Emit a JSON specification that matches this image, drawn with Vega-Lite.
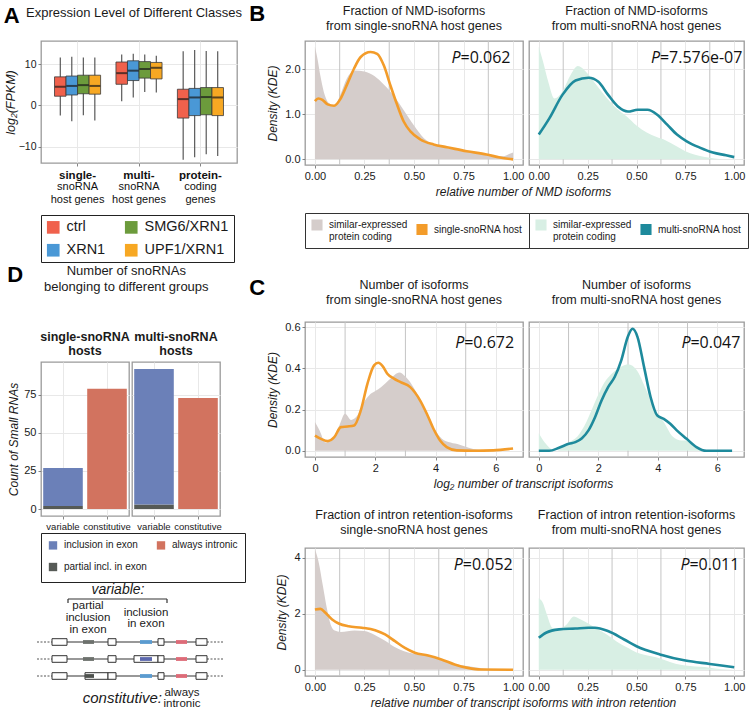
{
"$schema": "https://vega.github.io/schema/vega-lite/v6.json",
"background": "white",
"padding": {"left": 3, "top": 3, "right": 2, "bottom": 2},
"spacing": 3,
"resolve": {"scale": {"color": "independent"}},
"config": {
  "font": "Liberation Sans",
  "view": {"stroke": "#9a9a9a", "strokeWidth": 1.3},
  "axis": {"labelFont": "Liberation Sans", "labelFontSize": 11, "labelColor": "#1a1a1a", "tickColor": "#666", "tickSize": 3, "tickWidth": 0.8, "domain": false, "gridColor": "#e8e8e8", "gridWidth": 1, "titleFont": "Liberation Sans", "titleFontWeight": "normal", "titleFontStyle": "italic", "titleFontSize": 12, "titleColor": "#1a1a1a", "labelPadding": 2, "titlePadding": 5},
  "title": {"font": "Liberation Sans", "fontWeight": "normal", "fontSize": 12.5, "color": "#1a1a1a", "lineHeight": 15},
  "legend": {"titleFontWeight": "normal", "labelFont": "Liberation Sans", "labelColor": "#1a1a1a", "gridAlign": "each"}
},
"datasets": {
  "boxes": [
    {"grp":"single","cond":"ctrl","lo":-2.5,"q1":2.2,"med":4.5,"q3":6.9,"hi":11.6},
    {"grp":"single","cond":"XRN1","lo":-3.9,"q1":2.5,"med":4.7,"q3":7.1,"hi":11.8},
    {"grp":"single","cond":"SMG6/XRN1","lo":-2.4,"q1":2.8,"med":4.9,"q3":7.3,"hi":11.6},
    {"grp":"single","cond":"UPF1/XRN1","lo":-3.7,"q1":2.7,"med":4.7,"q3":7.3,"hi":11.6},
    {"grp":"multi","cond":"ctrl","lo":1.0,"q1":5.1,"med":7.8,"q3":10.5,"hi":12.3},
    {"grp":"multi","cond":"XRN1","lo":1.9,"q1":6.0,"med":8.4,"q3":10.8,"hi":12.5},
    {"grp":"multi","cond":"SMG6/XRN1","lo":3.2,"q1":6.6,"med":8.8,"q3":10.6,"hi":12.3},
    {"grp":"multi","cond":"UPF1/XRN1","lo":3.1,"q1":6.4,"med":9.1,"q3":10.4,"hi":12.0},
    {"grp":"protein","cond":"ctrl","lo":-13.2,"q1":-3.1,"med":1.5,"q3":3.9,"hi":13.1},
    {"grp":"protein","cond":"XRN1","lo":-12.6,"q1":-2.5,"med":1.9,"q3":4.1,"hi":13.4},
    {"grp":"protein","cond":"SMG6/XRN1","lo":-11.9,"q1":-2.3,"med":2.0,"q3":4.3,"hi":13.2},
    {"grp":"protein","cond":"UPF1/XRN1","lo":-12.3,"q1":-2.5,"med":1.9,"q3":4.3,"hi":13.1}
  ],
  "dbars": [
    {"host":"single","cls":"variable","kind":"partial incl. in exon","n":2,"ord":1},
    {"host":"single","cls":"variable","kind":"inclusion in exon","n":25,"ord":2},
    {"host":"single","cls":"constitutive","kind":"always intronic","n":79,"ord":3},
    {"host":"multi","cls":"variable","kind":"partial incl. in exon","n":3,"ord":1},
    {"host":"multi","cls":"variable","kind":"inclusion in exon","n":89,"ord":2},
    {"host":"multi","cls":"constitutive","kind":"always intronic","n":73,"ord":3}
  ],
  "vgrid": [
    {"k":"frac","x":0.125},{"k":"frac","x":0.375},{"k":"frac","x":0.625},{"k":"frac","x":0.875},
    {"k":"iso","x":1},{"k":"iso","x":3},{"k":"iso","x":5}
  ],
  "pv": [
    {"p":"BL","jx":0.735,"py":2.14,"v":"=0.062"},
    {"p":"BR","jx":0.62,"py":2.14,"v":"=7.576e-07"},
    {"p":"CTL","jx":4.95,"py":0.5,"v":"=0.672"},
    {"p":"CTR","jx":5.1,"py":0.5,"v":"=0.047"},
    {"p":"CBL","jx":0.746,"py":3.57,"v":"=0.052"},
    {"p":"CBR","jx":0.771,"py":3.57,"v":"=0.011"}
  ],
  "dens": [
    {"p":"BL","s":"p","x":0,"y":2.5},{"p":"BL","s":"p","x":0.01,"y":2.3},{"p":"BL","s":"p","x":0.03,"y":1.8},{"p":"BL","s":"p","x":0.05,"y":1.42},{"p":"BL","s":"p","x":0.07,"y":1.25},{"p":"BL","s":"p","x":0.1,"y":1.2},{"p":"BL","s":"p","x":0.13,"y":1.45},{"p":"BL","s":"p","x":0.16,"y":1.78},{"p":"BL","s":"p","x":0.2,"y":1.97},{"p":"BL","s":"p","x":0.25,"y":1.95},{"p":"BL","s":"p","x":0.3,"y":1.85},{"p":"BL","s":"p","x":0.35,"y":1.65},{"p":"BL","s":"p","x":0.4,"y":1.4},{"p":"BL","s":"p","x":0.45,"y":1.08},{"p":"BL","s":"p","x":0.5,"y":0.75},{"p":"BL","s":"p","x":0.55,"y":0.47},{"p":"BL","s":"p","x":0.6,"y":0.33},{"p":"BL","s":"p","x":0.65,"y":0.27},{"p":"BL","s":"p","x":0.7,"y":0.22},{"p":"BL","s":"p","x":0.8,"y":0.15},{"p":"BL","s":"p","x":0.9,"y":0.08},{"p":"BL","s":"p","x":0.95,"y":0.07},{"p":"BL","s":"p","x":0.98,"y":0.12},{"p":"BL","s":"p","x":1.0,"y":0.15},
    {"p":"BL","s":"h","x":0,"y":1.29},{"p":"BL","s":"h","x":0.017,"y":1.35},{"p":"BL","s":"h","x":0.038,"y":1.32},{"p":"BL","s":"h","x":0.064,"y":1.22},{"p":"BL","s":"h","x":0.097,"y":1.19},{"p":"BL","s":"h","x":0.13,"y":1.35},{"p":"BL","s":"h","x":0.164,"y":1.68},{"p":"BL","s":"h","x":0.197,"y":2.01},{"p":"BL","s":"h","x":0.231,"y":2.27},{"p":"BL","s":"h","x":0.281,"y":2.38},{"p":"BL","s":"h","x":0.314,"y":2.34},{"p":"BL","s":"h","x":0.348,"y":2.08},{"p":"BL","s":"h","x":0.381,"y":1.64},{"p":"BL","s":"h","x":0.415,"y":1.21},{"p":"BL","s":"h","x":0.448,"y":0.84},{"p":"BL","s":"h","x":0.482,"y":0.62},{"p":"BL","s":"h","x":0.532,"y":0.44},{"p":"BL","s":"h","x":0.599,"y":0.33},{"p":"BL","s":"h","x":0.666,"y":0.27},{"p":"BL","s":"h","x":0.766,"y":0.18},{"p":"BL","s":"h","x":0.866,"y":0.11},{"p":"BL","s":"h","x":0.933,"y":0.04},{"p":"BL","s":"h","x":1.0,"y":0.0},
    {"p":"BR","s":"p","x":0,"y":2.5},{"p":"BR","s":"p","x":0.02,"y":2.2},{"p":"BR","s":"p","x":0.05,"y":1.7},{"p":"BR","s":"p","x":0.08,"y":1.35},{"p":"BR","s":"p","x":0.12,"y":1.5},{"p":"BR","s":"p","x":0.16,"y":1.85},{"p":"BR","s":"p","x":0.2,"y":2.07},{"p":"BR","s":"p","x":0.24,"y":1.95},{"p":"BR","s":"p","x":0.3,"y":1.62},{"p":"BR","s":"p","x":0.35,"y":1.35},{"p":"BR","s":"p","x":0.4,"y":1.12},{"p":"BR","s":"p","x":0.45,"y":0.95},{"p":"BR","s":"p","x":0.5,"y":0.75},{"p":"BR","s":"p","x":0.55,"y":0.6},{"p":"BR","s":"p","x":0.6,"y":0.5},{"p":"BR","s":"p","x":0.65,"y":0.42},{"p":"BR","s":"p","x":0.7,"y":0.3},{"p":"BR","s":"p","x":0.75,"y":0.18},{"p":"BR","s":"p","x":0.8,"y":0.1},{"p":"BR","s":"p","x":0.85,"y":0.05},{"p":"BR","s":"p","x":0.9,"y":0.02},{"p":"BR","s":"p","x":0.95,"y":0.0},{"p":"BR","s":"p","x":1.0,"y":0.0},
    {"p":"BR","s":"h","x":0,"y":0.55},{"p":"BR","s":"h","x":0.054,"y":0.91},{"p":"BR","s":"h","x":0.121,"y":1.43},{"p":"BR","s":"h","x":0.188,"y":1.75},{"p":"BR","s":"h","x":0.255,"y":1.81},{"p":"BR","s":"h","x":0.305,"y":1.72},{"p":"BR","s":"h","x":0.355,"y":1.43},{"p":"BR","s":"h","x":0.405,"y":1.17},{"p":"BR","s":"h","x":0.456,"y":1.06},{"p":"BR","s":"h","x":0.506,"y":1.1},{"p":"BR","s":"h","x":0.556,"y":1.1},{"p":"BR","s":"h","x":0.606,"y":0.99},{"p":"BR","s":"h","x":0.657,"y":0.77},{"p":"BR","s":"h","x":0.707,"y":0.55},{"p":"BR","s":"h","x":0.757,"y":0.4},{"p":"BR","s":"h","x":0.824,"y":0.26},{"p":"BR","s":"h","x":0.891,"y":0.15},{"p":"BR","s":"h","x":0.958,"y":0.09},{"p":"BR","s":"h","x":1.0,"y":0.05},
    {"p":"CTL","s":"p","x":0,"y":0.14},{"p":"CTL","s":"p","x":0.15,"y":0.1},{"p":"CTL","s":"p","x":0.35,"y":0.04},{"p":"CTL","s":"p","x":0.55,"y":0.05},{"p":"CTL","s":"p","x":0.8,"y":0.12},{"p":"CTL","s":"p","x":1.0,"y":0.18},{"p":"CTL","s":"p","x":1.2,"y":0.15},{"p":"CTL","s":"p","x":1.4,"y":0.17},{"p":"CTL","s":"p","x":1.6,"y":0.23},{"p":"CTL","s":"p","x":1.8,"y":0.27},{"p":"CTL","s":"p","x":2.0,"y":0.29},{"p":"CTL","s":"p","x":2.2,"y":0.31},{"p":"CTL","s":"p","x":2.5,"y":0.35},{"p":"CTL","s":"p","x":2.8,"y":0.38},{"p":"CTL","s":"p","x":3.0,"y":0.36},{"p":"CTL","s":"p","x":3.3,"y":0.3},{"p":"CTL","s":"p","x":3.6,"y":0.21},{"p":"CTL","s":"p","x":3.9,"y":0.12},{"p":"CTL","s":"p","x":4.2,"y":0.06},{"p":"CTL","s":"p","x":4.5,"y":0.04},{"p":"CTL","s":"p","x":4.8,"y":0.03},{"p":"CTL","s":"p","x":5.1,"y":0.015},{"p":"CTL","s":"p","x":5.4,"y":0.005},{"p":"CTL","s":"p","x":5.6,"y":0},
    {"p":"CTL","s":"h","x":0,"y":0.074},{"p":"CTL","s":"h","x":0.2,"y":0.058},{"p":"CTL","s":"h","x":0.42,"y":0.047},{"p":"CTL","s":"h","x":0.64,"y":0.066},{"p":"CTL","s":"h","x":0.86,"y":0.115},{"p":"CTL","s":"h","x":1.08,"y":0.118},{"p":"CTL","s":"h","x":1.3,"y":0.123},{"p":"CTL","s":"h","x":1.52,"y":0.196},{"p":"CTL","s":"h","x":1.74,"y":0.325},{"p":"CTL","s":"h","x":1.96,"y":0.415},{"p":"CTL","s":"h","x":2.1,"y":0.427},{"p":"CTL","s":"h","x":2.25,"y":0.41},{"p":"CTL","s":"h","x":2.4,"y":0.374},{"p":"CTL","s":"h","x":2.62,"y":0.35},{"p":"CTL","s":"h","x":2.84,"y":0.333},{"p":"CTL","s":"h","x":3.16,"y":0.309},{"p":"CTL","s":"h","x":3.49,"y":0.244},{"p":"CTL","s":"h","x":3.71,"y":0.18},{"p":"CTL","s":"h","x":3.93,"y":0.107},{"p":"CTL","s":"h","x":4.15,"y":0.05},{"p":"CTL","s":"h","x":4.37,"y":0.018},{"p":"CTL","s":"h","x":4.7,"y":0.002},{"p":"CTL","s":"h","x":5.25,"y":0},{"p":"CTL","s":"h","x":5.91,"y":0.002},{"p":"CTL","s":"h","x":6.57,"y":0.011},
    {"p":"CTR","s":"p","x":0,"y":0.085},{"p":"CTR","s":"p","x":0.2,"y":0.04},{"p":"CTR","s":"p","x":0.4,"y":0.01},{"p":"CTR","s":"p","x":0.6,"y":0.0},{"p":"CTR","s":"p","x":0.8,"y":0.02},{"p":"CTR","s":"p","x":1.0,"y":0.04},{"p":"CTR","s":"p","x":1.3,"y":0.07},{"p":"CTR","s":"p","x":1.6,"y":0.14},{"p":"CTR","s":"p","x":1.9,"y":0.24},{"p":"CTR","s":"p","x":2.2,"y":0.33},{"p":"CTR","s":"p","x":2.5,"y":0.38},{"p":"CTR","s":"p","x":2.8,"y":0.41},{"p":"CTR","s":"p","x":3.0,"y":0.42},{"p":"CTR","s":"p","x":3.3,"y":0.39},{"p":"CTR","s":"p","x":3.6,"y":0.3},{"p":"CTR","s":"p","x":3.9,"y":0.2},{"p":"CTR","s":"p","x":4.2,"y":0.14},{"p":"CTR","s":"p","x":4.5,"y":0.07},{"p":"CTR","s":"p","x":4.8,"y":0.05},{"p":"CTR","s":"p","x":5.0,"y":0.05},{"p":"CTR","s":"p","x":5.3,"y":0.02},{"p":"CTR","s":"p","x":5.5,"y":0.0},
    {"p":"CTR","s":"h","x":0,"y":0},{"p":"CTR","s":"h","x":0.35,"y":0.0},{"p":"CTR","s":"h","x":0.68,"y":0.015},{"p":"CTR","s":"h","x":1.01,"y":0.034},{"p":"CTR","s":"h","x":1.23,"y":0.042},{"p":"CTR","s":"h","x":1.45,"y":0.061},{"p":"CTR","s":"h","x":1.67,"y":0.099},{"p":"CTR","s":"h","x":1.89,"y":0.163},{"p":"CTR","s":"h","x":2.11,"y":0.244},{"p":"CTR","s":"h","x":2.33,"y":0.309},{"p":"CTR","s":"h","x":2.55,"y":0.358},{"p":"CTR","s":"h","x":2.77,"y":0.438},{"p":"CTR","s":"h","x":2.99,"y":0.552},{"p":"CTR","s":"h","x":3.15,"y":0.592},{"p":"CTR","s":"h","x":3.32,"y":0.552},{"p":"CTR","s":"h","x":3.54,"y":0.406},{"p":"CTR","s":"h","x":3.76,"y":0.26},{"p":"CTR","s":"h","x":3.98,"y":0.172},{"p":"CTR","s":"h","x":4.2,"y":0.155},{"p":"CTR","s":"h","x":4.42,"y":0.131},{"p":"CTR","s":"h","x":4.64,"y":0.099},{"p":"CTR","s":"h","x":4.97,"y":0.058},{"p":"CTR","s":"h","x":5.3,"y":0.018},{"p":"CTR","s":"h","x":5.63,"y":0},{"p":"CTR","s":"h","x":6.5,"y":0},
    {"p":"CBL","s":"p","x":0,"y":4.3},{"p":"CBL","s":"p","x":0.02,"y":3.8},{"p":"CBL","s":"p","x":0.04,"y":3.0},{"p":"CBL","s":"p","x":0.06,"y":2.2},{"p":"CBL","s":"p","x":0.08,"y":1.6},{"p":"CBL","s":"p","x":0.1,"y":1.4},{"p":"CBL","s":"p","x":0.13,"y":1.35},{"p":"CBL","s":"p","x":0.2,"y":1.4},{"p":"CBL","s":"p","x":0.25,"y":1.38},{"p":"CBL","s":"p","x":0.3,"y":1.25},{"p":"CBL","s":"p","x":0.35,"y":1.05},{"p":"CBL","s":"p","x":0.4,"y":0.82},{"p":"CBL","s":"p","x":0.45,"y":0.66},{"p":"CBL","s":"p","x":0.5,"y":0.57},{"p":"CBL","s":"p","x":0.55,"y":0.52},{"p":"CBL","s":"p","x":0.6,"y":0.46},{"p":"CBL","s":"p","x":0.65,"y":0.32},{"p":"CBL","s":"p","x":0.7,"y":0.22},{"p":"CBL","s":"p","x":0.75,"y":0.15},{"p":"CBL","s":"p","x":0.8,"y":0.1},{"p":"CBL","s":"p","x":0.85,"y":0.05},{"p":"CBL","s":"p","x":0.9,"y":0.02},{"p":"CBL","s":"p","x":0.95,"y":0.0},
    {"p":"CBL","s":"h","x":0,"y":2.15},{"p":"CBL","s":"h","x":0.028,"y":2.17},{"p":"CBL","s":"h","x":0.053,"y":2.03},{"p":"CBL","s":"h","x":0.087,"y":1.79},{"p":"CBL","s":"h","x":0.12,"y":1.65},{"p":"CBL","s":"h","x":0.17,"y":1.55},{"p":"CBL","s":"h","x":0.237,"y":1.5},{"p":"CBL","s":"h","x":0.304,"y":1.41},{"p":"CBL","s":"h","x":0.354,"y":1.26},{"p":"CBL","s":"h","x":0.404,"y":1.02},{"p":"CBL","s":"h","x":0.454,"y":0.78},{"p":"CBL","s":"h","x":0.504,"y":0.61},{"p":"CBL","s":"h","x":0.571,"y":0.51},{"p":"CBL","s":"h","x":0.638,"y":0.37},{"p":"CBL","s":"h","x":0.705,"y":0.19},{"p":"CBL","s":"h","x":0.771,"y":0.07},{"p":"CBL","s":"h","x":0.838,"y":0.01},{"p":"CBL","s":"h","x":1.0,"y":0},
    {"p":"CBR","s":"p","x":0,"y":2.55},{"p":"CBR","s":"p","x":0.02,"y":2.4},{"p":"CBR","s":"p","x":0.04,"y":2.0},{"p":"CBR","s":"p","x":0.07,"y":1.5},{"p":"CBR","s":"p","x":0.1,"y":1.45},{"p":"CBR","s":"p","x":0.14,"y":1.6},{"p":"CBR","s":"p","x":0.18,"y":1.9},{"p":"CBR","s":"p","x":0.2,"y":1.85},{"p":"CBR","s":"p","x":0.24,"y":1.7},{"p":"CBR","s":"p","x":0.3,"y":1.45},{"p":"CBR","s":"p","x":0.35,"y":1.25},{"p":"CBR","s":"p","x":0.4,"y":1.0},{"p":"CBR","s":"p","x":0.45,"y":0.8},{"p":"CBR","s":"p","x":0.5,"y":0.62},{"p":"CBR","s":"p","x":0.55,"y":0.52},{"p":"CBR","s":"p","x":0.6,"y":0.45},{"p":"CBR","s":"p","x":0.65,"y":0.33},{"p":"CBR","s":"p","x":0.7,"y":0.22},{"p":"CBR","s":"p","x":0.75,"y":0.15},{"p":"CBR","s":"p","x":0.8,"y":0.12},{"p":"CBR","s":"p","x":0.85,"y":0.1},{"p":"CBR","s":"p","x":0.9,"y":0.05},{"p":"CBR","s":"p","x":0.95,"y":0.02},{"p":"CBR","s":"p","x":1.0,"y":0.0},
    {"p":"CBR","s":"h","x":0,"y":1.14},{"p":"CBR","s":"h","x":0.037,"y":1.32},{"p":"CBR","s":"h","x":0.104,"y":1.44},{"p":"CBR","s":"h","x":0.187,"y":1.47},{"p":"CBR","s":"h","x":0.254,"y":1.5},{"p":"CBR","s":"h","x":0.287,"y":1.5},{"p":"CBR","s":"h","x":0.354,"y":1.38},{"p":"CBR","s":"h","x":0.437,"y":1.08},{"p":"CBR","s":"h","x":0.5,"y":0.84},{"p":"CBR","s":"h","x":0.62,"y":0.55},{"p":"CBR","s":"h","x":0.75,"y":0.33},{"p":"CBR","s":"h","x":0.875,"y":0.21},{"p":"CBR","s":"h","x":1.0,"y":0.09}
  ],
  "sch_seg": [
    {"x1":17,"x2":172,"y1":55,"y2":55},{"x1":17,"x2":172,"y1":72,"y2":72},{"x1":17,"x2":172,"y1":89,"y2":89},
    {"x1":33,"x2":132,"y1":12,"y2":12},{"x1":33,"x2":33,"y1":12,"y2":16},{"x1":132,"x2":132,"y1":12,"y2":16}
  ],
  "sch_dot": [
    {"x1":2,"x2":17,"y1":55,"y2":55},{"x1":172,"x2":188,"y1":55,"y2":55},
    {"x1":2,"x2":17,"y1":72,"y2":72},{"x1":172,"x2":188,"y1":72,"y2":72},
    {"x1":2,"x2":17,"y1":89,"y2":89},{"x1":172,"x2":188,"y1":89,"y2":89}
  ],
  "sch_box": [
    {"x1":17,"x2":32,"y1":51.7,"y2":58.3},{"x1":73,"x2":81,"y1":51.7,"y2":58.3},{"x1":123,"x2":129,"y1":51.7,"y2":58.3},{"x1":161,"x2":172,"y1":51.7,"y2":58.3},
    {"x1":17,"x2":32,"y1":68.7,"y2":75.3},{"x1":73,"x2":81,"y1":68.7,"y2":75.3},{"x1":99,"x2":123,"y1":68.7,"y2":75.3},{"x1":123,"x2":129,"y1":68.7,"y2":75.3},{"x1":161,"x2":172,"y1":68.7,"y2":75.3},
    {"x1":17,"x2":32,"y1":85.7,"y2":92.3},{"x1":50,"x2":73,"y1":85.7,"y2":92.3},{"x1":73,"x2":81,"y1":85.7,"y2":92.3},{"x1":123,"x2":129,"y1":85.7,"y2":92.3},{"x1":161,"x2":172,"y1":85.7,"y2":92.3}
  ],
  "sch_sno": [
    {"x1":48,"x2":59,"y1":53.1,"y2":56.9,"c":"gray"},{"x1":105,"x2":117,"y1":53.1,"y2":56.9,"c":"blue"},{"x1":141,"x2":152,"y1":53.1,"y2":56.9,"c":"red"},
    {"x1":48,"x2":59,"y1":70.1,"y2":73.9,"c":"gray"},{"x1":105,"x2":117,"y1":70.1,"y2":73.9,"c":"blue2"},{"x1":141,"x2":152,"y1":70.1,"y2":73.9,"c":"red"},
    {"x1":50,"x2":59,"y1":87.1,"y2":90.9,"c":"gray2"},{"x1":105,"x2":117,"y1":87.1,"y2":90.9,"c":"blue"},{"x1":141,"x2":152,"y1":87.1,"y2":90.9,"c":"red"}
  ],
  "sch_txt": [
    {"x":53,"y":19,"t":"partial"},{"x":53,"y":31,"t":"inclusion"},{"x":53,"y":43,"t":"in exon"},
    {"x":111,"y":26,"t":"inclusion"},{"x":111,"y":37,"t":"in exon"},
    {"x":147,"y":106,"t":"always"},{"x":147,"y":117,"t":"intronic"}
  ],
  "sch_it": [
    {"x":83,"y":3,"t":"variable:","a":"c"},{"x":127,"y":111,"t":"constitutive:","a":"r"}
  ]
},
"hconcat": [
  {
    "spacing": 0,
    "resolve": {"scale": {"color": "independent"}},
    "vconcat": [
      {
        "title": {"text": "A", "orient": "left", "anchor": "end", "angle": 0, "align": "left", "fontSize": 22, "fontWeight": "bold", "offset": -16, "color": "#000"},
        "vconcat": [
          {
            "width": 196, "height": 122,
            "title": {"text": "Expression Level of Different Classes", "fontSize": 13, "anchor": "middle", "frame": "group", "dx": -5, "offset": 21},
            "data": {"name": "boxes"},
            "encoding": {
              "xOffset": {"field": "cond", "type": "nominal", "sort": ["ctrl","XRN1","SMG6/XRN1","UPF1/XRN1"]}
            },
            "layer": [
              {"mark": {"type": "rule", "color": "#4a4a4a", "strokeWidth": 1.1},
               "encoding": {
                 "x": {"field": "grp", "type": "nominal", "sort": ["single","multi","protein"], "scale": {"paddingInner": 0.25, "paddingOuter": 0.22},
                       "axis": {"title": null, "orient": "bottom", "labelExpr": "datum.value == 'single' ? 'single-' : datum.value == 'multi' ? 'multi-' : 'protein-'", "labelFontWeight": "bold", "labelFontSize": 11.5, "labelAngle": 0, "labelPadding": 3, "grid": true, "labelColor": "#111"}},
                 "y": {"field": "lo", "type": "quantitative", "scale": {"domain": [-14.0, 15.6], "nice": false, "zero": false}, "axis": {"title": "log₂(FPKM)", "values": [-10, 0, 10], "titleFontSize": 12.5, "titlePadding": 1, "labelFontSize": 10.5}},
                 "y2": {"field": "hi"}
               }},
              {"mark": {"type": "bar", "stroke": "#3a3a3a", "strokeWidth": 0.8},
               "encoding": {
                 "x": {"field": "grp", "type": "nominal", "sort": ["single","multi","protein"],
                       "axis": {"title": null, "orient": "bottom", "labelExpr": "datum.value == 'protein' ? ['coding', 'genes'] : ['snoRNA', 'host genes']", "labelFontSize": 11, "labelAngle": 0, "labelPadding": 17, "labelLineHeight": 13, "ticks": false, "grid": false, "labelColor": "#111"}},
                 "y": {"field": "q1", "type": "quantitative"},
                 "y2": {"field": "q3"},
                 "color": {"field": "cond", "type": "nominal", "scale": {"domain": ["ctrl","SMG6/XRN1","XRN1","UPF1/XRN1"], "range": ["#f0614c","#6c9b3c","#4a98d6","#f7a823"]},
                           "legend": {"orient": "bottom", "direction": "horizontal", "columns": 2, "gridAlign": "each", "title": null, "symbolType": "square", "symbolSize": 160, "symbolStrokeWidth": 0, "labelFontSize": 14.5, "strokeColor": "#222", "padding": 5, "columnPadding": 18, "rowPadding": 8, "offset": 10, "labelOffset": 6}}
               }},
              {"mark": {"type": "tick", "color": "#1a1a1a", "thickness": 2, "size": 11, "orient": "horizontal"},
               "encoding": {
                 "x": {"field": "grp", "type": "nominal", "sort": ["single","multi","protein"], "axis": null},
                 "y": {"field": "med", "type": "quantitative"}
               }}
            ],
            "resolve": {"axis": {"x": "independent"}}
          }
        ]
      },
      {
        "title": {"text": "D", "orient": "left", "anchor": "end", "angle": 0, "align": "left", "fontSize": 22, "fontWeight": "bold", "offset": -16, "color": "#000"},
        "spacing": 0,
        "resolve": {"scale": {"color": "independent"}},
        "vconcat": [
          {
            "title": {"text": ["Number of snoRNAs", "belonging to different groups"], "fontSize": 13, "lineHeight": 16, "offset": 36, "anchor": "middle"},
            "spacing": 3,
            "bounds": "flush",
            "resolve": {"scale": {"y": "shared", "color": "shared"}},
            "hconcat": [
              {
                "width": 88, "height": 154,
                "title": {"text": ["single-snoRNA", "hosts"], "fontWeight": "bold", "fontSize": 12.5, "lineHeight": 14, "offset": 5},
                "data": {"name": "dbars"},
                "transform": [{"filter": "datum.host == 'single'"}],
                "mark": {"type": "bar"},
                "encoding": {
                  "x": {"field": "cls", "type": "nominal", "sort": ["variable","constitutive"], "scale": {"paddingInner": 0.1, "paddingOuter": 0.05}, "axis": {"title": null, "labelAngle": 0, "labelFontSize": 9.5, "grid": true}},
                  "y": {"field": "n", "type": "quantitative", "stack": "zero", "scale": {"domain": [-4.6, 96.6], "nice": false, "zero": false}, "axis": {"title": "Count of Small RNAs", "values": [0, 25, 50, 75], "titlePadding": 3}},
                  "color": {"field": "kind", "type": "nominal", "scale": {"domain": ["inclusion in exon","always intronic","partial incl. in exon"], "range": ["#6b80b8","#d2735f","#565a56"]},
                            "legend": {"orient": "bottom", "direction": "horizontal", "columns": 2, "gridAlign": "each", "title": null, "symbolType": "square", "symbolSize": 70, "labelFontSize": 10, "strokeColor": "#222", "padding": 7, "columnPadding": 6, "rowPadding": 6, "offset": 1, "labelOffset": 6,
                                       "encode": {"symbols": {"update": {"fill": {"signal": "datum.value == 'inclusion in exon' ? '#6a9fd0' : datum.value == 'always intronic' ? '#dc7b80' : '#6b706b'"}, "stroke": {"value": "transparent"}}}}}},
                  "order": {"field": "ord", "type": "quantitative"}
                }
              },
              {
                "width": 88, "height": 154,
                "title": {"text": ["multi-snoRNA", "hosts"], "fontWeight": "bold", "fontSize": 12.5, "lineHeight": 14, "offset": 5},
                "data": {"name": "dbars"},
                "transform": [{"filter": "datum.host == 'multi'"}],
                "mark": {"type": "bar"},
                "encoding": {
                  "x": {"field": "cls", "type": "nominal", "sort": ["variable","constitutive"], "scale": {"paddingInner": 0.1, "paddingOuter": 0.05}, "axis": {"title": null, "labelAngle": 0, "labelFontSize": 9.5, "grid": true}},
                  "y": {"field": "n", "type": "quantitative", "stack": "zero", "axis": {"title": null, "labels": false, "ticks": false, "values": [0, 25, 50, 75]}},
                  "color": {"field": "kind", "type": "nominal"},
                  "order": {"field": "ord", "type": "quantitative"}
                }
              }
            ]
          },
          {
            "width": 184, "height": 122,
            "view": {"stroke": null},
            "layer": [
              {"data": {"name": "sch_dot"}, "mark": {"type": "rule", "color": "#555", "strokeWidth": 1, "strokeDash": [2, 1.5]},
               "encoding": {"x": {"field": "x1", "type": "quantitative", "scale": {"domain": [6, 190], "nice": false, "zero": false}, "axis": null}, "x2": {"field": "x2"},
                            "y": {"field": "y1", "type": "quantitative", "scale": {"domain": [0, 122], "nice": false, "zero": false, "reverse": true}, "axis": null}, "y2": {"field": "y2"}}},
              {"data": {"name": "sch_seg"}, "mark": {"type": "rule", "color": "#333", "strokeWidth": 1.2},
               "encoding": {"x": {"field": "x1", "type": "quantitative"}, "x2": {"field": "x2"}, "y": {"field": "y1", "type": "quantitative"}, "y2": {"field": "y2"}}},
              {"data": {"name": "sch_box"}, "mark": {"type": "rect", "fill": "white", "stroke": "#333", "strokeWidth": 1},
               "encoding": {"x": {"field": "x1", "type": "quantitative"}, "x2": {"field": "x2"}, "y": {"field": "y1", "type": "quantitative"}, "y2": {"field": "y2"}}},
              {"data": {"name": "sch_sno"}, "mark": {"type": "rect"},
               "encoding": {"x": {"field": "x1", "type": "quantitative"}, "x2": {"field": "x2"}, "y": {"field": "y1", "type": "quantitative"}, "y2": {"field": "y2"},
                            "color": {"field": "c", "type": "nominal", "scale": {"domain": ["gray","gray2","blue","blue2","red"], "range": ["#6d716d","#4d514d","#5b9bd0","#5b67ad","#dd6b78"]}, "legend": null}}},
              {"data": {"name": "sch_txt"}, "mark": {"type": "text", "fontSize": 11.5, "color": "#1a1a1a", "baseline": "middle", "align": "center"},
               "encoding": {"x": {"field": "x", "type": "quantitative"}, "y": {"field": "y", "type": "quantitative"}, "text": {"field": "t"}}},
              {"data": {"name": "sch_it"}, "transform": [{"filter": "datum.a == 'c'"}], "mark": {"type": "text", "fontSize": 14, "fontStyle": "italic", "color": "#1a1a1a", "baseline": "middle", "align": "center"},
               "encoding": {"x": {"field": "x", "type": "quantitative"}, "y": {"field": "y", "type": "quantitative"}, "text": {"field": "t"}}},
              {"data": {"name": "sch_it"}, "transform": [{"filter": "datum.a == 'r'"}], "mark": {"type": "text", "fontSize": 15, "fontStyle": "italic", "color": "#1a1a1a", "baseline": "middle", "align": "right"},
               "encoding": {"x": {"field": "x", "type": "quantitative"}, "y": {"field": "y", "type": "quantitative"}, "text": {"field": "t"}}}
            ]
          }
        ]
      }
    ]
  },
  {
    "spacing": 27,
    "resolve": {"scale": {"color": "independent"}},
    "vconcat": [
      {
        "title": {"text": "B", "orient": "left", "anchor": "end", "angle": 0, "align": "left", "fontSize": 22, "fontWeight": "bold", "offset": 1, "color": "#000"},
        "spacing": 6,
        "bounds": "flush",
        "resolve": {"scale": {"color": "independent"}},
        "hconcat": [
          {
            "width": 218, "height": 124,
            "title": {"text": ["Fraction of NMD-isoforms", "from single-snoRNA host genes"], "offset": 8},
            "layer": [
              {"data": {"name": "vgrid"}, "transform": [{"filter": "datum.k == 'frac'"}], "mark": {"type": "rule", "color": "#c4c4c4", "strokeWidth": 1},
               "encoding": {"x": {"field": "x", "type": "quantitative", "scale": {"domain": [-0.05, 1.05], "nice": false, "zero": false},
                                  "axis": {"title": "relative number of NMD isoforms", "titleAnchor": "end", "titleAlign": "center", "values": [0, 0.25, 0.5, 0.75, 1], "format": ".2f"}}}},
              {"data": {"name": "dens"}, "transform": [{"filter": "datum.p == 'BL' && datum.s == 'p'"}], "mark": {"type": "area", "interpolate": "monotone"},
               "encoding": {"x": {"field": "x", "type": "quantitative"},
                            "y": {"field": "y", "type": "quantitative", "scale": {"domain": [-0.125, 2.625], "nice": false, "zero": false}, "axis": {"title": "Density (KDE)", "values": [0, 0.5, 1, 1.5, 2, 2.5], "format": ".1f"}},
                            "y2": {"datum": 0},
                            "color": {"field": "s", "type": "nominal", "scale": {"domain": ["p", "h"], "range": ["#d5cdcb", "#f39c2a"]},
                                      "legend": {"orient": "bottom", "direction": "horizontal", "title": null, "symbolType": "square", "symbolSize": 90, "symbolStrokeWidth": 1.6, "labelFontSize": 10, "labelExpr": "datum.value == 'p' ? ['similar-expressed', 'protein coding'] : 'single-snoRNA host'", "strokeColor": "#333", "padding": 6, "columnPadding": 6, "offset": 16, "labelOffset": 6,
                                                 "encode": {"symbols": {"update": {"fill": {"signal": "datum.value == 'p' ? '#d5cdcb' : 'transparent'"}, "stroke": {"signal": "datum.value == 'p' ? 'transparent' : '#f39c2a'"}, "strokeWidth": {"value": 1.6}}}}}}}},
              {"data": {"name": "dens"}, "transform": [{"filter": "datum.p == 'BL' && datum.s == 'h'"}], "mark": {"type": "line", "interpolate": "monotone", "strokeWidth": 2.6},
               "encoding": {"x": {"field": "x", "type": "quantitative"}, "y": {"field": "y", "type": "quantitative"}, "color": {"field": "s", "type": "nominal"}}},
              {"data": {"name": "pv"}, "transform": [{"filter": "datum.p == 'BL'"}], "mark": {"type": "text", "text": "P", "font": "Open Sans", "fontSize": 16, "fontStyle": "italic", "align": "right", "baseline": "alphabetic", "color": "#111"},
               "encoding": {"x": {"field": "jx", "type": "quantitative"}, "y": {"field": "py", "type": "quantitative"}}},
              {"data": {"name": "pv"}, "transform": [{"filter": "datum.p == 'BL'"}], "mark": {"type": "text", "font": "Open Sans", "fontSize": 16, "align": "left", "baseline": "alphabetic", "color": "#111"},
               "encoding": {"x": {"field": "jx", "type": "quantitative"}, "y": {"field": "py", "type": "quantitative"}, "text": {"field": "v"}}}
            ]
          },
          {
            "width": 215, "height": 124,
            "title": {"text": ["Fraction of NMD-isoforms", "from multi-snoRNA host genes"], "offset": 8},
            "layer": [
              {"data": {"name": "vgrid"}, "transform": [{"filter": "datum.k == 'frac'"}], "mark": {"type": "rule", "color": "#c4c4c4", "strokeWidth": 1},
               "encoding": {"x": {"field": "x", "type": "quantitative", "scale": {"domain": [-0.05, 1.05], "nice": false, "zero": false},
                                  "axis": {"title": " ", "values": [0, 0.25, 0.5, 0.75, 1], "format": ".2f"}}}},
              {"data": {"name": "dens"}, "transform": [{"filter": "datum.p == 'BR' && datum.s == 'p'"}], "mark": {"type": "area", "interpolate": "monotone"},
               "encoding": {"x": {"field": "x", "type": "quantitative"},
                            "y": {"field": "y", "type": "quantitative", "scale": {"domain": [-0.125, 2.625], "nice": false, "zero": false}, "axis": {"title": null, "labels": false, "ticks": false, "values": [0, 0.5, 1, 1.5, 2, 2.5]}},
                            "y2": {"datum": 0},
                            "color": {"field": "s", "type": "nominal", "scale": {"domain": ["p", "h"], "range": ["#d8efe4", "#1e8a9c"]},
                                      "legend": {"orient": "bottom", "direction": "horizontal", "title": null, "symbolType": "square", "symbolSize": 90, "symbolStrokeWidth": 1.6, "labelFontSize": 10, "labelExpr": "datum.value == 'p' ? ['similar-expressed', 'protein coding'] : 'multi-snoRNA host'", "strokeColor": "#333", "padding": 6, "columnPadding": 6, "offset": 16, "labelOffset": 6,
                                                 "encode": {"symbols": {"update": {"fill": {"signal": "datum.value == 'p' ? '#d8efe4' : 'transparent'"}, "stroke": {"signal": "datum.value == 'p' ? 'transparent' : '#1e8a9c'"}, "strokeWidth": {"value": 1.6}}}}}}}},
              {"data": {"name": "dens"}, "transform": [{"filter": "datum.p == 'BR' && datum.s == 'h'"}], "mark": {"type": "line", "interpolate": "monotone", "strokeWidth": 2.6},
               "encoding": {"x": {"field": "x", "type": "quantitative"}, "y": {"field": "y", "type": "quantitative"}, "color": {"field": "s", "type": "nominal"}}},
              {"data": {"name": "pv"}, "transform": [{"filter": "datum.p == 'BR'"}], "mark": {"type": "text", "text": "P", "font": "Open Sans", "fontSize": 16, "fontStyle": "italic", "align": "right", "baseline": "alphabetic", "color": "#111"},
               "encoding": {"x": {"field": "jx", "type": "quantitative"}, "y": {"field": "py", "type": "quantitative"}}},
              {"data": {"name": "pv"}, "transform": [{"filter": "datum.p == 'BR'"}], "mark": {"type": "text", "font": "Open Sans", "fontSize": 16, "align": "left", "baseline": "alphabetic", "color": "#111"},
               "encoding": {"x": {"field": "jx", "type": "quantitative"}, "y": {"field": "py", "type": "quantitative"}, "text": {"field": "v"}}}
            ]
          }
        ]
      },
      {
        "title": {"text": "C", "orient": "left", "anchor": "end", "angle": 0, "align": "left", "fontSize": 22, "fontWeight": "bold", "offset": 1, "color": "#000"},
        "spacing": 18,
        "vconcat": [
          {
            "spacing": 6,
            "bounds": "flush",
            "hconcat": [
              {
                "width": 218, "height": 135,
                "title": {"text": ["Number of isoforms", "from single-snoRNA host genes"], "offset": 15},
                "layer": [
                  {"data": {"name": "vgrid"}, "transform": [{"filter": "datum.k == 'iso'"}], "mark": {"type": "rule", "color": "#c4c4c4", "strokeWidth": 1},
                   "encoding": {"x": {"field": "x", "type": "quantitative", "scale": {"domain": [-0.33, 6.9], "nice": false, "zero": false},
                                      "axis": {"title": "log₂ number of transcript isoforms", "titleAnchor": "end", "titleAlign": "center", "values": [0, 2, 4, 6], "format": "d"}}}},
                  {"data": {"name": "dens"}, "transform": [{"filter": "datum.p == 'CTL' && datum.s == 'p'"}], "mark": {"type": "area", "interpolate": "monotone", "color": "#d5cdcb"},
                   "encoding": {"x": {"field": "x", "type": "quantitative"},
                                "y": {"field": "y", "type": "quantitative", "scale": {"domain": [-0.03, 0.625], "nice": false, "zero": false}, "axis": {"title": "Density (KDE)", "values": [0, 0.2, 0.4, 0.6], "format": ".1f"}},
                                "y2": {"datum": 0}}},
                  {"data": {"name": "dens"}, "transform": [{"filter": "datum.p == 'CTL' && datum.s == 'h'"}], "mark": {"type": "line", "interpolate": "monotone", "strokeWidth": 2.6, "color": "#f39c2a"},
                   "encoding": {"x": {"field": "x", "type": "quantitative"}, "y": {"field": "y", "type": "quantitative"}}},
                  {"data": {"name": "pv"}, "transform": [{"filter": "datum.p == 'CTL'"}], "mark": {"type": "text", "text": "P", "font": "Open Sans", "fontSize": 16, "fontStyle": "italic", "align": "right", "baseline": "alphabetic", "color": "#111"},
                   "encoding": {"x": {"field": "jx", "type": "quantitative"}, "y": {"field": "py", "type": "quantitative"}}},
                  {"data": {"name": "pv"}, "transform": [{"filter": "datum.p == 'CTL'"}], "mark": {"type": "text", "font": "Open Sans", "fontSize": 16, "align": "left", "baseline": "alphabetic", "color": "#111"},
                   "encoding": {"x": {"field": "jx", "type": "quantitative"}, "y": {"field": "py", "type": "quantitative"}, "text": {"field": "v"}}}
                ]
              },
              {
                "width": 215, "height": 135,
                "title": {"text": ["Number of isoforms", "from multi-snoRNA host genes"], "offset": 15},
                "layer": [
                  {"data": {"name": "vgrid"}, "transform": [{"filter": "datum.k == 'iso'"}], "mark": {"type": "rule", "color": "#c4c4c4", "strokeWidth": 1},
                   "encoding": {"x": {"field": "x", "type": "quantitative", "scale": {"domain": [-0.33, 6.9], "nice": false, "zero": false},
                                      "axis": {"title": null, "values": [0, 2, 4, 6], "format": "d"}}}},
                  {"data": {"name": "dens"}, "transform": [{"filter": "datum.p == 'CTR' && datum.s == 'p'"}], "mark": {"type": "area", "interpolate": "monotone", "color": "#d8efe4"},
                   "encoding": {"x": {"field": "x", "type": "quantitative"},
                                "y": {"field": "y", "type": "quantitative", "scale": {"domain": [-0.03, 0.625], "nice": false, "zero": false}, "axis": {"title": null, "labels": false, "ticks": false, "values": [0, 0.2, 0.4, 0.6]}},
                                "y2": {"datum": 0}}},
                  {"data": {"name": "dens"}, "transform": [{"filter": "datum.p == 'CTR' && datum.s == 'h'"}], "mark": {"type": "line", "interpolate": "monotone", "strokeWidth": 2.6, "color": "#1e8a9c"},
                   "encoding": {"x": {"field": "x", "type": "quantitative"}, "y": {"field": "y", "type": "quantitative"}}},
                  {"data": {"name": "pv"}, "transform": [{"filter": "datum.p == 'CTR'"}], "mark": {"type": "text", "text": "P", "font": "Open Sans", "fontSize": 16, "fontStyle": "italic", "align": "right", "baseline": "alphabetic", "color": "#111"},
                   "encoding": {"x": {"field": "jx", "type": "quantitative"}, "y": {"field": "py", "type": "quantitative"}}},
                  {"data": {"name": "pv"}, "transform": [{"filter": "datum.p == 'CTR'"}], "mark": {"type": "text", "font": "Open Sans", "fontSize": 16, "align": "left", "baseline": "alphabetic", "color": "#111"},
                   "encoding": {"x": {"field": "jx", "type": "quantitative"}, "y": {"field": "py", "type": "quantitative"}, "text": {"field": "v"}}}
                ]
              }
            ]
          },
          {
            "spacing": 6,
            "bounds": "flush",
            "hconcat": [
              {
                "width": 218, "height": 128,
                "title": {"text": ["Fraction of intron retention-isoforms", "single-snoRNA host genes"], "offset": 11},
                "layer": [
                  {"data": {"name": "vgrid"}, "transform": [{"filter": "datum.k == 'frac'"}], "mark": {"type": "rule", "color": "#c4c4c4", "strokeWidth": 1},
                   "encoding": {"x": {"field": "x", "type": "quantitative", "scale": {"domain": [-0.05, 1.05], "nice": false, "zero": false},
                                      "axis": {"title": "relative number of transcript isoforms with intron retention", "titleAnchor": "end", "titleAlign": "center", "values": [0, 0.25, 0.5, 0.75, 1], "format": ".2f"}}}},
                  {"data": {"name": "dens"}, "transform": [{"filter": "datum.p == 'CBL' && datum.s == 'p'"}], "mark": {"type": "area", "interpolate": "monotone", "color": "#d5cdcb"},
                   "encoding": {"x": {"field": "x", "type": "quantitative"},
                                "y": {"field": "y", "type": "quantitative", "scale": {"domain": [-0.22, 4.34], "nice": false, "zero": false}, "axis": {"title": "Density (KDE)", "values": [0, 1, 2, 3, 4], "format": "d"}},
                                "y2": {"datum": 0}}},
                  {"data": {"name": "dens"}, "transform": [{"filter": "datum.p == 'CBL' && datum.s == 'h'"}], "mark": {"type": "line", "interpolate": "monotone", "strokeWidth": 2.6, "color": "#f39c2a"},
                   "encoding": {"x": {"field": "x", "type": "quantitative"}, "y": {"field": "y", "type": "quantitative"}}},
                  {"data": {"name": "pv"}, "transform": [{"filter": "datum.p == 'CBL'"}], "mark": {"type": "text", "text": "P", "font": "Open Sans", "fontSize": 16, "fontStyle": "italic", "align": "right", "baseline": "alphabetic", "color": "#111"},
                   "encoding": {"x": {"field": "jx", "type": "quantitative"}, "y": {"field": "py", "type": "quantitative"}}},
                  {"data": {"name": "pv"}, "transform": [{"filter": "datum.p == 'CBL'"}], "mark": {"type": "text", "font": "Open Sans", "fontSize": 16, "align": "left", "baseline": "alphabetic", "color": "#111"},
                   "encoding": {"x": {"field": "jx", "type": "quantitative"}, "y": {"field": "py", "type": "quantitative"}, "text": {"field": "v"}}}
                ]
              },
              {
                "width": 215, "height": 128,
                "title": {"text": ["Fraction of intron retention-isoforms", "from multi-snoRNA host genes"], "offset": 11},
                "layer": [
                  {"data": {"name": "vgrid"}, "transform": [{"filter": "datum.k == 'frac'"}], "mark": {"type": "rule", "color": "#c4c4c4", "strokeWidth": 1},
                   "encoding": {"x": {"field": "x", "type": "quantitative", "scale": {"domain": [-0.05, 1.05], "nice": false, "zero": false},
                                      "axis": {"title": null, "values": [0, 0.25, 0.5, 0.75, 1], "format": ".2f"}}}},
                  {"data": {"name": "dens"}, "transform": [{"filter": "datum.p == 'CBR' && datum.s == 'p'"}], "mark": {"type": "area", "interpolate": "monotone", "color": "#d8efe4"},
                   "encoding": {"x": {"field": "x", "type": "quantitative"},
                                "y": {"field": "y", "type": "quantitative", "scale": {"domain": [-0.22, 4.34], "nice": false, "zero": false}, "axis": {"title": null, "labels": false, "ticks": false, "values": [0, 1, 2, 3, 4]}},
                                "y2": {"datum": 0}}},
                  {"data": {"name": "dens"}, "transform": [{"filter": "datum.p == 'CBR' && datum.s == 'h'"}], "mark": {"type": "line", "interpolate": "monotone", "strokeWidth": 2.6, "color": "#1e8a9c"},
                   "encoding": {"x": {"field": "x", "type": "quantitative"}, "y": {"field": "y", "type": "quantitative"}}},
                  {"data": {"name": "pv"}, "transform": [{"filter": "datum.p == 'CBR'"}], "mark": {"type": "text", "text": "P", "font": "Open Sans", "fontSize": 16, "fontStyle": "italic", "align": "right", "baseline": "alphabetic", "color": "#111"},
                   "encoding": {"x": {"field": "jx", "type": "quantitative"}, "y": {"field": "py", "type": "quantitative"}}},
                  {"data": {"name": "pv"}, "transform": [{"filter": "datum.p == 'CBR'"}], "mark": {"type": "text", "font": "Open Sans", "fontSize": 16, "align": "left", "baseline": "alphabetic", "color": "#111"},
                   "encoding": {"x": {"field": "jx", "type": "quantitative"}, "y": {"field": "py", "type": "quantitative"}, "text": {"field": "v"}}}
                ]
              }
            ]
          }
        ]
      }
    ]
  }
]
}
